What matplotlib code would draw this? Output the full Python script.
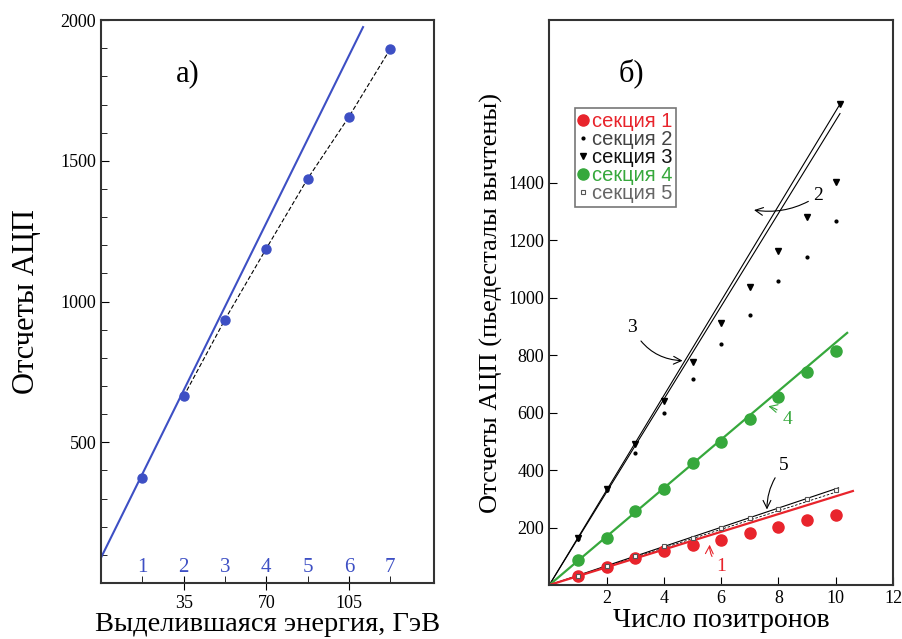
import numpy as np
import matplotlib.pyplot as plt
from matplotlib.ticker import MultipleLocator

plt.rcParams['font.family'] = ['Liberation Serif', 'DejaVu Serif']

# panel a) data
energy = [17.5, 35, 52.5, 70, 87.5, 105, 122.5]
adc_a = [372, 663, 936, 1188, 1436, 1656, 1897]
cell_numbers = ['1', '2', '3', '4', '5', '6', '7']
fit_a_x = [0, 111]
fit_a_y = [90, 1975]

# panel b) data
n_pos = [1, 2, 3, 4, 5, 6, 7, 8, 9, 10]
sec1 = [31, 63, 94, 118, 139, 157, 181, 202, 226, 244]
sec2 = [160, 330, 459, 598, 716, 838, 939, 1057, 1141, 1266]
sec3 = [165, 335, 490, 640, 776, 911, 1037, 1162, 1280, 1402]
sec3_top = (10.15, 1673)
sec4 = [87, 163, 257, 334, 424, 497, 577, 654, 741, 814]
sec5 = [33, 66, 100, 135, 165, 198, 233, 264, 299, 330]
fit1 = ([0, 10.6], [0, 327])
fit4 = ([0, 10.4], [0, 877])
fit2 = ([0, 10.15], [0, 1673])
fit3 = ([0, 10.15], [0, 1640])
fit5a = ([0, 10.1], [0, 338])
fit5b = ([0, 10.1], [0, 326])

blue = '#3d4fc4'
red = '#e8242c'
green = '#36a83c'

fig = plt.figure(figsize=(9.02, 6.39), dpi=100)

# ---- panel a)
ax1 = fig.add_axes([0.112, 0.0876, 0.369, 0.881])
ax1.plot(fit_a_x, fit_a_y, color=blue, lw=1.5)
ax1.plot(energy[1:], adc_a[1:], color='black', lw=0.8, ls=(0, (4, 2)))
ax1.plot(energy, adc_a, 'o', color=blue, ms=6.5)
for x, s in zip(energy, cell_numbers):
    ax1.text(x, 22, s, color=blue, ha='center', va='bottom', fontsize=15)
ax1.set_xlim(0, 141)
ax1.set_ylim(0, 2000)
ax1.set_xticks([35, 70, 105])
ax1.set_xticks(energy, minor=True)
ax1.set_yticks([500, 1000, 1500, 2000])
ax1.yaxis.set_minor_locator(MultipleLocator(100))
ax1.tick_params(axis='x', which='major', direction='inout', length=10, labelsize=13)
ax1.tick_params(axis='x', which='minor', direction='in', length=5)
ax1.tick_params(axis='y', which='major', direction='in', length=6, labelsize=13)
ax1.tick_params(axis='y', which='minor', direction='in', length=4)
ax1.text(0.26, 0.905, 'a)', transform=ax1.transAxes, fontsize=22, ha='center', va='center')
ax1.set_xlabel('Выделившаяся энергия, ГэВ', fontsize=20.5, labelpad=0)
ax1.set_ylabel('Отсчеты АЦП', fontsize=22, labelpad=14)
for sp in ax1.spines.values():
    sp.set_linewidth(1.5)
    sp.set_color('#333333')

# ---- panel b)
ax2 = fig.add_axes([0.609, 0.0845, 0.381, 0.884])
ax2.plot(*fit2, color='black', lw=0.8)
ax2.plot(*fit3, color='black', lw=0.8)
ax2.plot(*fit4, color=green, lw=1.6)
ax2.plot(*fit5a, color='black', lw=0.8)
ax2.plot(*fit5b, color='black', lw=0.6, ls=(0, (3, 2)))
ax2.plot(*fit1, color=red, lw=1.6)

h1, = ax2.plot(n_pos, sec1, 'o', color=red, ms=8)
h2, = ax2.plot(n_pos, sec2, '.', color='black', ms=4)
h3, = ax2.plot(n_pos, sec3, 'v', color='black', ms=4)
ax2.plot([sec3_top[0]], [sec3_top[1]], 'v', color='black', ms=4)
h4, = ax2.plot(n_pos, sec4, 'o', color=green, ms=8)
h5, = ax2.plot(n_pos, sec5, 's', color='#555555', mfc='white', ms=2.5, mew=0.8)

leg = ax2.legend([h1, h2, h3, h4, h5],
                 ['секция 1', 'секция 2', 'секция 3', 'секция 4', 'секция 5'],
                 loc='upper left', bbox_to_anchor=(0.076, 0.844), borderaxespad=0,
                 handlelength=0.4, handletextpad=0.2, borderpad=0.2,
                 labelspacing=-0.05, frameon=True, fancybox=False, edgecolor='#555555',
                 prop={'family': ['Liberation Sans'], 'size': 14.5})
leg.get_frame().set_linewidth(1.2)
for t, c in zip(leg.get_texts(), [red, '#444444', '#111111', green, '#666666']):
    t.set_color(c)

arrow_kw = dict(arrowstyle='->', lw=0.8, color='black', shrinkA=2, shrinkB=1)
ax2.annotate('3', xy=(4.7, 780), xytext=(2.9, 880), fontsize=14, ha='center',
             arrowprops=dict(connectionstyle='arc3,rad=0.3', **arrow_kw))
ax2.annotate('2', xy=(7.1, 1305), xytext=(9.4, 1340), fontsize=14, ha='center',
             arrowprops=dict(connectionstyle='arc3,rad=-0.2', **arrow_kw))
ax2.annotate('4', xy=(7.6, 623), xytext=(8.3, 560), fontsize=14, ha='center', color=green,
             arrowprops=dict(connectionstyle='arc3,rad=0.2', arrowstyle='->', lw=0.8,
                             color=green, shrinkA=2, shrinkB=1))
ax2.annotate('5', xy=(7.6, 258), xytext=(8.2, 400), fontsize=14, ha='center',
             arrowprops=dict(connectionstyle='arc3,rad=0.2', **arrow_kw))
ax2.annotate('1', xy=(5.6, 145), xytext=(6.0, 50), fontsize=14, ha='center', color=red,
             arrowprops=dict(connectionstyle='arc3,rad=-0.3', arrowstyle='->', lw=0.8,
                             color=red, shrinkA=2, shrinkB=1))

ax2.set_xlim(0, 12)
ax2.set_ylim(0, 1965)
ax2.set_xticks([2, 4, 6, 8, 10, 12])
ax2.set_yticks([200, 400, 600, 800, 1000, 1200, 1400])
ax2.tick_params(direction='in', length=6, labelsize=13)
ax2.text(0.24, 0.905, 'б)', transform=ax2.transAxes, fontsize=22, ha='center', va='center')
ax2.set_xlabel('Число позитронов', fontsize=20, labelpad=1)
ax2.set_ylabel('Отсчеты АЦП (пьедесталы вычтены)', fontsize=19, labelpad=4)
for sp in ax2.spines.values():
    sp.set_linewidth(1.5)
    sp.set_color('#333333')

fig.savefig('out.png', dpi=100)
